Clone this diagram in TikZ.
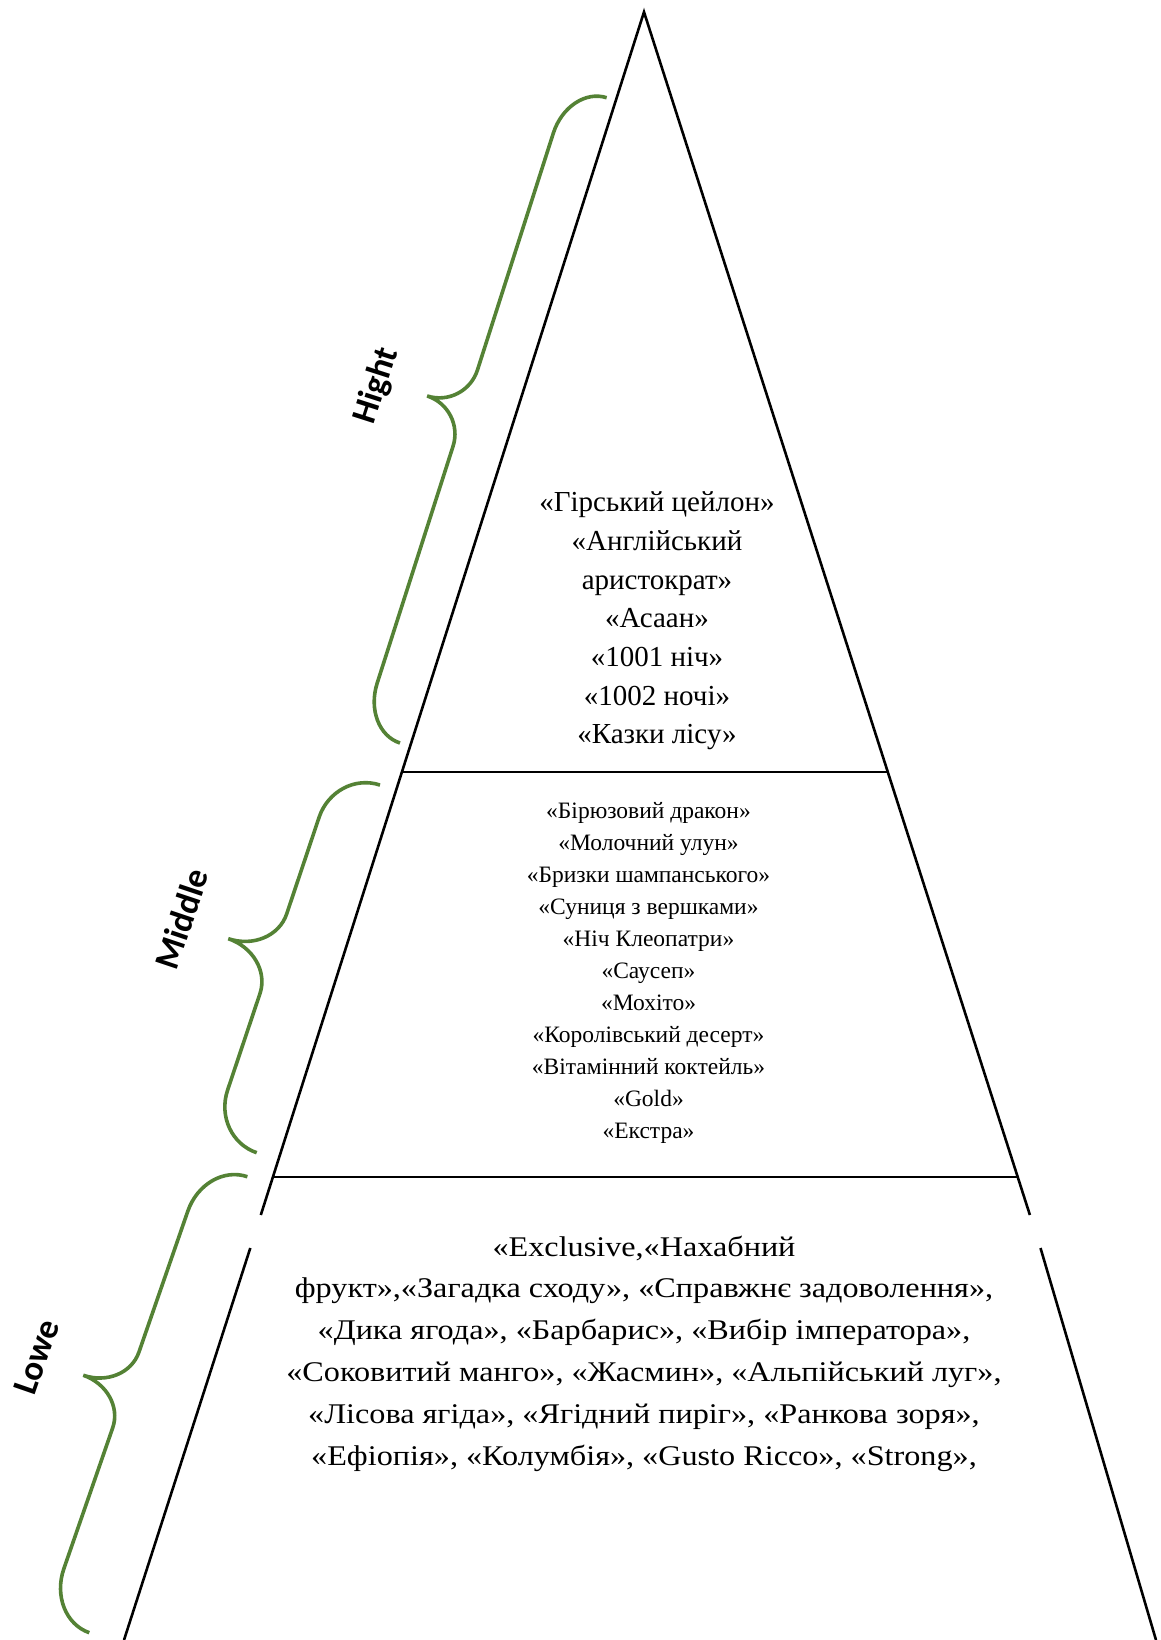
\documentclass[tikz,border=0pt]{standalone}
\usepackage{fontspec}
\setmainfont{Liberation Serif}
\newfontfamily\serfont{Liberation Serif}
\newfontfamily\lowfont{Liberation Serif}[FakeStretch=1.13]
\newfontfamily\lblfont{Carlito}
\usetikzlibrary{calc}
\definecolor{bracegreen}{RGB}{84,130,53}
\tikzset{
  pyr/.style={line width=2.6pt, line join=miter, line cap=butt},
  gline/.style={draw=bracegreen, line width=3.6pt, line cap=butt},
  lbl/.style={font=\lblfont\bfseries\fontsize{35}{40}\selectfont, inner sep=0pt},
  toptext/.style={font=\serfont\fontsize{29}{38.7}\selectfont, align=center, inner sep=0pt},
  midtext/.style={font=\serfont\fontsize{23.5}{32}\selectfont, align=center, inner sep=0pt},
  lowtext/.style={font=\lowfont\fontsize{28.5}{41.8}\selectfont, align=center, inner sep=0pt},
}
% #1 origin (bottom end), #2 angle, #3 length, #4 width, #5 end curl, #6 middle curl
\newcommand\gbr[6]{%
  \pgfmathsetmacro\bh{#4/2}%
  \pgfmathsetmacro\bk{0.5523}%
  \pgfmathsetmacro\bhalf{#3/2}%
  \begin{scope}[shift={#1}, rotate=#2, x=1pt, y=1pt]
    \draw[gline] (0,0) .. controls (0,{\bk*\bh}) and ({(1-\bk)*#5},\bh) .. (#5,\bh)
      -- ({\bhalf-#6},\bh) .. controls ({\bhalf-(1-\bk)*#6},\bh) and (\bhalf,{#4-\bk*\bh}) .. (\bhalf,#4)
      .. controls (\bhalf,{#4-\bk*\bh}) and ({\bhalf+(1-\bk)*#6},\bh) .. ({\bhalf+#6},\bh)
      -- ({#3-#5},\bh) .. controls ({#3-(1-\bk)*#5},\bh) and (#3,{\bk*\bh}) .. (#3,0);
  \end{scope}}
\begin{document}
\begin{tikzpicture}[x=1pt,y=-1pt]
\useasboundingbox (0,0) rectangle (1161,1640);
\fill[white] (0,0) rectangle (1161,1640);

% pyramid
\coordinate (apex) at (644,12);
\coordinate (lt1) at (401.9,772);
\coordinate (rt1) at (887.8,772);
\coordinate (lt2) at (273.0,1177);
\coordinate (rt2) at (1017.7,1177);
\coordinate (lg1) at (260.8,1215);
\coordinate (lg2) at (250.3,1248);
\coordinate (lb)  at (124,1640);
\coordinate (rg1) at (1029.9,1215);
\coordinate (rg2) at (1040.5,1248);
\coordinate (rb)  at (1156,1640);

\draw[pyr] (lg1) -- (apex) -- (rg1);
\draw[pyr] (lg2) -- (lb);
\draw[pyr] (rg2) -- (rb);
\draw[pyr] (lt1) -- (rt1);
\draw[pyr] (lt2) -- (rt2);

% texts
\node[toptext] (toptxt) at (657,621) {«Гірський цейлон»\\«Англійський\\аристократ»\\ «Асаан»\\«1001 ніч»\\ «1002 ночі»\\«Казки лісу»};
\node[midtext] (midtxt) at (648.5,972.6) {«Бірюзовий дракон»\\«Молочний улун»\\«Бризки шампанського»\\«Суниця з вершками»\\«Ніч Клеопатри»\\«Саусеп»\\«Мохіто»\\«Королівський десерт»\\«Вітамінний коктейль»\\«Gold»\\«Екстра»};
\node[lowtext] (lowtxt) at (644,1353.4) {«Exclusive,«Нахабний\\фрукт»,«Загадка сходу», «Справжнє задоволення»,\\«Дика ягода», «Барбарис», «Вибір імператора»,\\«Соковитий манго», «Жасмин», «Альпійський луг»,\\«Лісова ягіда», «Ягідний пиріг», «Ранкова зоря»,\\«Ефіопія», «Колумбія», «Gusto Ricco», «Strong»,};

% braces
\gbr{(400,743)}{72.24}{677.6}{80}{50}{40}
\gbr{(256.7,1152.7)}{71.46}{387.8}{95}{50}{42}
\gbr{(89.3,1632.7)}{70.88}{482.6}{90}{52}{40}

% labels
\node[lbl, rotate=72.2] (hight) at (377,386) {Hight};
\node[lbl, rotate=71.5] (middle) at (181.7,919) {Middle};
\node[lbl, rotate=70.9] (lowe) at (36.7,1357) {Lowe};
\end{tikzpicture}
\end{document}
